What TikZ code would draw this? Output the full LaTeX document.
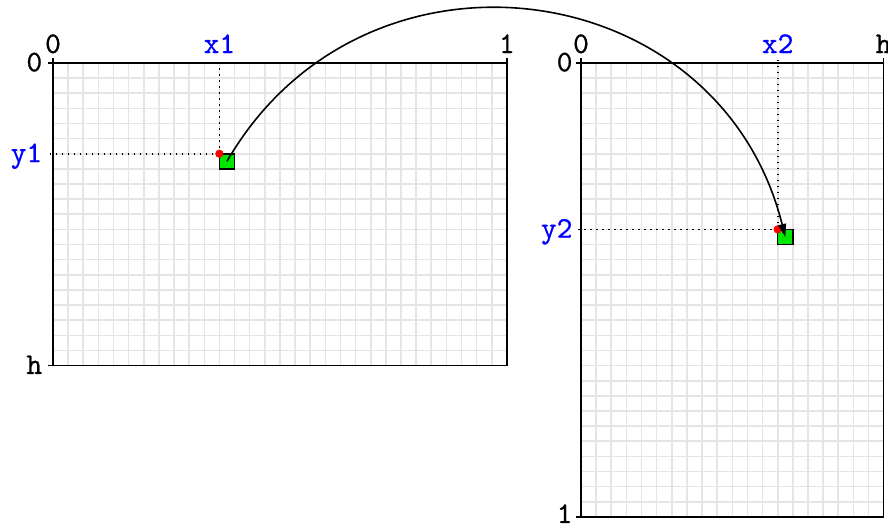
\documentclass[tikz,border=0pt]{standalone}
\usepackage{fontspec}
\newfontfamily\lblfont{lmmono10-regular}[Extension=.otf, FakeBold=0.7]
\usetikzlibrary{arrows.meta}

\begin{document}
\begin{tikzpicture}[
  x=1pt, y=1pt,
  gridline/.style={draw=black!10, line width=1.6},
  frame/.style={line width=1.5},
  guide/.style={dash pattern=on 1.6pt off 4.4pt, line width=1.6},
  lbl/.style={font=\lblfont\fontsize{30}{30}\selectfont, inner sep=0},
  var/.style={lbl, text=blue},
  pt/.style={circle, fill=red, inner sep=0, minimum size=8},
  cellbox/.style={draw, fill={rgb,255:red,0;green,230;blue,0}, line width=1.5, minimum size=15.13, inner sep=0, outer sep=0},
  arrow/.style={-{Triangle[length=13,width=8]}, line width=1.6}
]
\useasboundingbox (0,0) rectangle (888,529);

% source image, 30 x 20 cells
\begin{scope}[shift={(53,466)}, x=15.13pt, y=-15.13pt]
  \foreach \i in {1,...,29} \draw[gridline] (\i,0) -- (\i,20);
  \foreach \j in {1,...,19} \draw[gridline] (0,\j) -- (30,\j);
  \draw[frame] (0,0) rectangle (30,20);
  \draw[frame] (0,0) -- (0,-0.33) (0,0) -- (-0.33,0) (30,0) -- (30,-0.33) (0,20) -- (-0.33,20);
  \coordinate (xa) at (11,-0.33);
  \coordinate (ya) at (-0.33,6);
  \node[pt] (pa) at (11,6) {};
  \draw[guide] (pa.center) -- (xa);
  \draw[guide] (pa.center) -- (ya);
  \node[cellbox, anchor=north west] (sqa) at (pa.center) {};
  \node[pt] at (pa.center) {};
  \node[lbl, anchor=base] (a0) at (0,-0.66) {0};
  \node[var, anchor=base] (ax) at (11,-0.66) {x1};
  \node[lbl, anchor=base] (aw) at (30,-0.66) {1};
  \node[lbl, anchor=base east] (b0) at (-0.7,0.55) {0};
  \node[var, anchor=base east] (by) at (-0.7,6.55) {y1};
  \node[lbl, anchor=base east] (bh) at (-0.7,20.55) {h};
\end{scope}

% rotated image, 20 x 30 cells
\begin{scope}[shift={(581,466)}, x=15.13pt, y=-15.13pt]
  \foreach \i in {1,...,19} \draw[gridline] (\i,0) -- (\i,30);
  \foreach \j in {1,...,29} \draw[gridline] (0,\j) -- (20,\j);
  \draw[frame] (0,0) rectangle (20,30);
  \draw[frame] (0,0) -- (0,-0.33) (0,0) -- (-0.33,0) (20,0) -- (20,-0.33) (0,30) -- (-0.33,30);
  \coordinate (xb) at (13,-0.33);
  \coordinate (yb) at (-0.33,11);
  \node[pt] (pb) at (13,11) {};
  \draw[guide] (pb.center) -- (xb);
  \draw[guide] (pb.center) -- (yb);
  \node[cellbox, anchor=north west] (sqb) at (pb.center) {};
  \node[pt] at (pb.center) {};
  \node[lbl, anchor=base] (c0) at (0,-0.66) {0};
  \node[var, anchor=base] (cx) at (13,-0.66) {x2};
  \node[lbl, anchor=base] (ch) at (20,-0.66) {h};
  \node[lbl, anchor=base east] (d0) at (-0.55,0.55) {0};
  \node[var, anchor=base east] (dy) at (-0.55,11.55) {y2};
  \node[lbl, anchor=base east] (dw) at (-0.55,30.4) {1};
\end{scope}

\draw[arrow] (sqa.center) to[out=60, in=104, looseness=1.24] (sqb.center);
\end{tikzpicture}
\end{document}
